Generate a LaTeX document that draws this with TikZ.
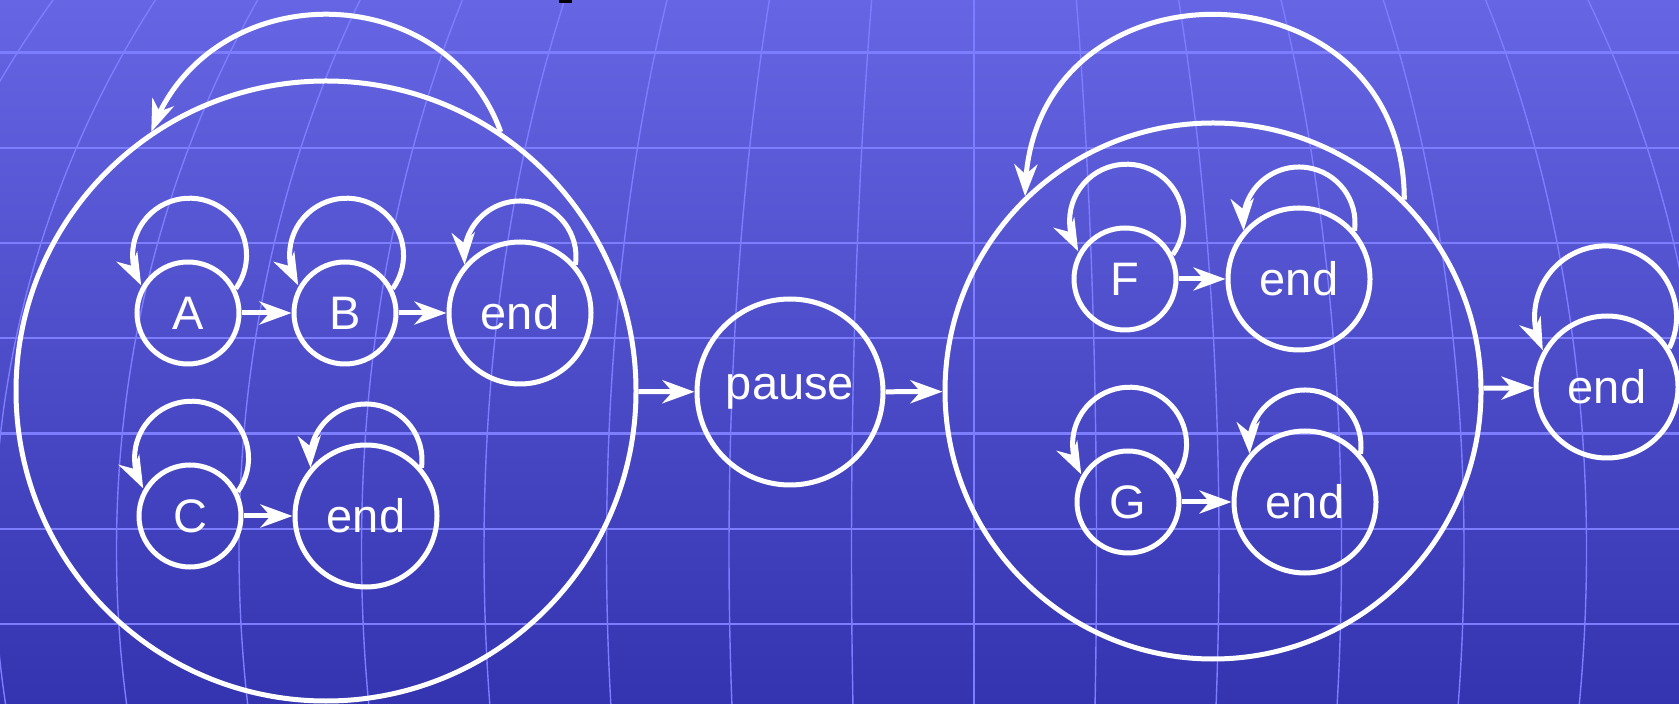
\documentclass[tikz,border=0pt]{standalone}
\usepackage{fontspec}
\setmainfont{Liberation Sans}
\usetikzlibrary{arrows.meta,bending}
\definecolor{bgtop}{RGB}{102,102,228}
\definecolor{bgbot}{RGB}{52,52,176}
\definecolor{gridc}{RGB}{125,125,255}
\begin{document}
\begin{tikzpicture}[x=0.5pt,y=0.5pt,
  st/.style={circle,draw=white,line width=2.5pt,text=white,inner sep=0pt,font=\fontsize{23.5}{28}\selectfont},
  small/.style={st,minimum size=51pt},
  endn/.style={st,minimum size=71pt},
  arr/.style={draw=white,line width=2.5pt,-{Stealth[length=16pt,width=11.5pt,inset=5pt]}},
  looparr/.style={draw=white,line width=2.5pt,-{Stealth[length=16pt,width=11.5pt,inset=5pt,flex=0.5]}},
  hgrid/.style={draw=gridc,line width=1.2pt},
  vgrid/.style={draw=gridc,line width=0.7pt}]
\useasboundingbox (0,0) rectangle (1679,-704);
\clip (0,0) rectangle (1679,-704);
\shade[top color=bgtop,bottom color=bgbot] (0,0) rectangle (1679,-704);
\foreach \k in {0,...,6} \draw[hgrid] (0,-52.5-95.25*\k) -- (1679,-52.5-95.25*\k);
\draw[vgrid] (974,0) -- (974,-704);
\foreach \k in {1,...,9} \draw[vgrid] (974,-550) ellipse [x radius=122.5*\k, y radius=1000];
\fill[black] (559,0) rectangle (572,-3);
% nodes
\node[st,minimum size=310pt] (L) at (326,-391) {};
\node[small] (A) at (188,-313) {A};
\node[small] (B) at (345,-313) {B};
\node[endn] (E1) at (520,-313) {end};
\node[small] (C) at (190,-516) {C};
\node[endn] (E2) at (366,-516) {end};
\node[st,minimum size=93pt] (P) at (790,-392) {pause};
\node[st,minimum size=268pt] (R) at (1213,-391) {};
\node[small] (F) at (1125,-279) {F};
\node[endn] (E3) at (1299,-279) {end};
\node[small] (G) at (1128,-502) {G};
\node[endn] (E4) at (1305,-502) {end};
\node[endn] (E5) at (1607,-387) {end};
% straight connectors
\draw[arr] (A) -- (B);
\draw[arr] (B) -- (E1);
\draw[arr] (C) -- (E2);
\draw[arr] (F) -- (E3);
\draw[arr] (G) -- (E4);
\draw[arr] (L) -- (P);
\draw[arr] (P) -- (R);
\draw[arr] (R) -- (E5);
% loops
\foreach \n in {A,B,C,F,G}
  \draw[looparr] (\n.27) arc[start angle=-36, end angle=212, radius=57];
\foreach \n in {E1,E2,E3,E4}
  \draw[looparr] (\n.41) arc[start angle=-8, end angle=188, radius=56];
\draw[looparr] (E5.32) arc[start angle=-26, end angle=208, radius=71];
\draw[looparr] (L.56) .. controls +(110:167) and +(70:167) .. (L.124);
\draw[looparr] (R.45) .. controls +(90:245) and +(90:245) .. (R.134);
\end{tikzpicture}
\end{document}
